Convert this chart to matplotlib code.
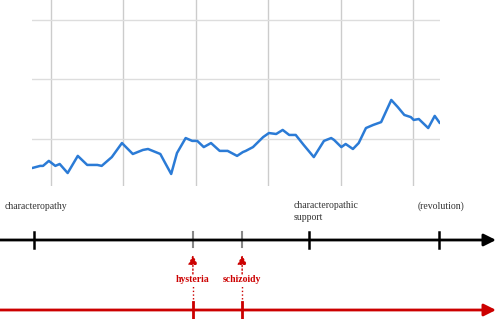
import matplotlib
matplotlib.use("Agg")
import matplotlib.pyplot as plt

# trend line (years, relative interest)
years = [2004.74, 2004.85, 2004.89, 2004.97, 2005.06, 2005.12, 2005.23, 2005.37, 2005.50, 2005.64,
         2005.70, 2005.84, 2005.98, 2006.13, 2006.27, 2006.34, 2006.51, 2006.57, 2006.66, 2006.74,
         2006.86, 2006.95, 2007.02, 2007.11, 2007.21, 2007.33, 2007.44, 2007.57, 2007.65, 2007.69,
         2007.79, 2007.93, 2008.01, 2008.11, 2008.20, 2008.29, 2008.38, 2008.49, 2008.63, 2008.77,
         2008.87, 2008.91, 2009.01, 2009.07, 2009.17, 2009.25, 2009.35, 2009.45, 2009.56, 2009.70,
         2009.79, 2009.88, 2009.97, 2010.01, 2010.08, 2010.21, 2010.30, 2010.37]
interest = [37.8, 38.7, 38.7, 40.8, 38.7, 39.5, 35.7, 42.9, 39.1, 39.1,
            38.7, 42.4, 48.3, 43.7, 45.4, 45.8, 43.7, 40.3, 35.3, 44.1,
            50.4, 49.2, 49.2, 46.6, 48.3, 45.0, 45.0, 42.9, 44.5, 45.0,
            46.6, 50.8, 52.5, 52.1, 53.8, 51.7, 51.7, 47.5, 42.4, 49.2,
            50.4, 49.6, 46.6, 47.9, 45.8, 48.3, 54.6, 55.9, 57.1, 66.4,
            63.4, 60.1, 59.2, 58.0, 58.4, 54.6, 59.7, 56.7]
grid_years = [2005, 2006, 2007, 2008, 2009, 2010]
grid_levels = [50, 75, 100]

# timeline below
black_events = ["characteropathy", "characteropathic\nsupport", "(revolution)"]
black_dates = [2004.77, 2008.56, 2010.36]
gray_dates = [2006.96, 2007.64]
red_events = ["hysteria", "schizoidy"]
red_dates = [2006.96, 2007.64]

W, H = 496, 319
fig = plt.figure(figsize=(W / 100, H / 100), dpi=100)

# px -> year for the full-width timeline
px_per_year = 72.4
def yr(px):
    return 2005 + (px - 51) / px_per_year

ax = fig.add_axes([32 / W, 1 - 186 / H, 408 / W, 186 / H])
ax.plot(years, interest, color="#2b7bd6", lw=1.8, solid_capstyle="round", solid_joinstyle="round")
ax.set_xlim(yr(32), yr(440))
ax.set_ylim(30.25, 108.4)
ax.set_xticks(grid_years)
ax.set_yticks(grid_levels)
ax.grid(axis="x", color="#cccccc", lw=1)
ax.grid(axis="y", color="#dddddd", lw=1)
ax.tick_params(length=0, labelbottom=False, labelleft=False)
for s in ax.spines.values():
    s.set_visible(False)

# timeline axes, y in pixels from top of this strip
tl = fig.add_axes([0, 0, 1, 1 - 186 / H])
tl.set_xlim(yr(0), yr(W))
tl.set_ylim(H - 186, 0)
tl.axis("off")
tl.patch.set_alpha(0)

serif = ["Liberation Serif", "DejaVu Serif"]
black_y = 240 - 186
red_y = 310 - 186

tl.annotate("", xy=(yr(W), black_y), xytext=(yr(0), black_y),
            arrowprops=dict(arrowstyle="-|>,head_length=0.4,head_width=0.2", color="black",
                            lw=2, mutation_scale=18, shrinkA=0, shrinkB=0))
tl.annotate("", xy=(yr(W), red_y), xytext=(yr(0), red_y),
            arrowprops=dict(arrowstyle="-|>,head_length=0.4,head_width=0.2", color="#cc0000",
                            lw=2, mutation_scale=18, shrinkA=0, shrinkB=0))

for d, name in zip(black_dates, black_events):
    tl.plot([d, d], [black_y - 8, black_y + 8], color="black", lw=1.8)
for d in gray_dates:
    tl.plot([d, d], [black_y - 8, black_y + 7], color="#888888", lw=1.5)

tl.text(yr(5), 206 - 186, black_events[0], family=serif, fontsize=7, color="#333333",
        ha="left", va="center")
tl.text(yr(294), 201 - 186, black_events[1], family=serif, fontsize=7, color="#333333",
        ha="left", va="top", linespacing=1.4)
tl.text(yr(418), 206 - 186, black_events[2], family=serif, fontsize=7, color="#333333",
        ha="left", va="center")

label_y = 280 - 186
for d, name in zip(red_dates, red_events):
    tl.plot([d, d], [red_y - 8, red_y + 8], color="#cc0000", lw=2)
    tl.plot([d, d], [red_y, label_y + 6], color="#cc0000", lw=1, ls=":")
    tl.annotate("", xy=(d, 255 - 186), xytext=(d, label_y - 6),
                arrowprops=dict(arrowstyle="-|>,head_length=0.4,head_width=0.2", color="#cc0000",
                                lw=1, ls=":", mutation_scale=14, shrinkA=0, shrinkB=0))
    tl.text(d, label_y, name, family=serif, fontsize=7, color="#cc0000", weight="bold",
            ha="center", va="center")

fig.savefig("out.png", dpi=100)
